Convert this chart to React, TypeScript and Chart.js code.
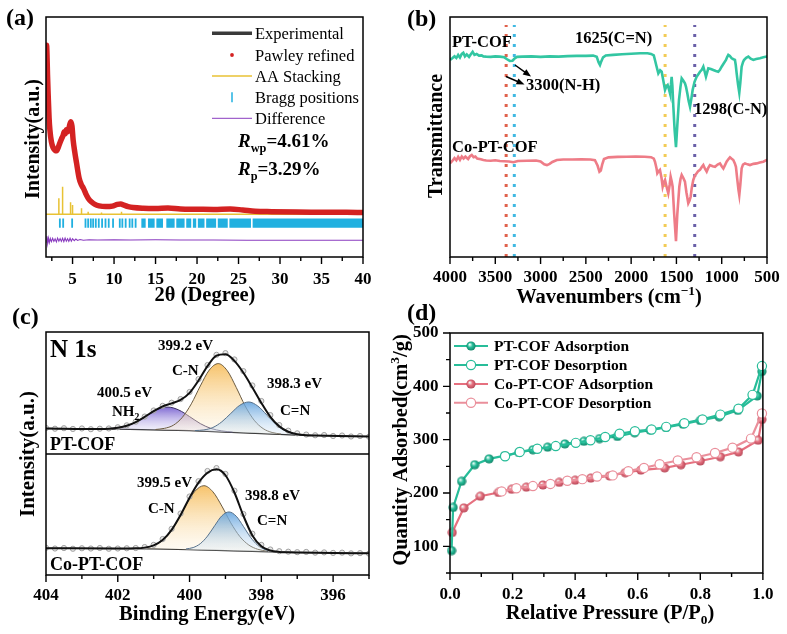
import React, { useEffect, useRef } from 'react';
import { Chart, registerables } from 'chart.js';
Chart.register(...registerables);

const SERIF = '"Liberation Serif", "Times New Roman", Times, serif';

// ---------------- Panel (a): PXRD ----------------
const A_PATTERN = [
  [1.82, 86], [1.87, 88.2], [1.93, 83], [1.98, 76], [2.07, 66.8], [2.17, 58], [2.27, 52.9], [2.45, 48],
  [2.67, 45.4], [2.9, 44.4], [3.08, 44.3], [3.27, 45.6], [3.47, 47.5], [3.67, 49.2], [3.87, 50.8], [4.0, 52.2],
  [4.12, 51.3], [4.25, 53.0], [4.4, 52.2], [4.55, 53.5], [4.7, 55.6], [4.8, 56.4], [4.93, 54.5], [5.07, 48.75],
  [5.3, 43], [5.48, 39.2], [5.79, 32.9], [6.05, 30.2], [6.3, 28.7], [6.6, 26.3], [6.9, 24.4], [7.3, 22.9],
  [7.7, 21.9], [8.2, 21.3], [9.0, 21.0], [9.8, 21.2], [10.4, 21.9], [10.8, 22.1], [11.2, 21.6], [11.7, 21.0],
  [12.3, 20.6], [13.5, 20.3], [15, 20.2], [16.5, 20.4], [18, 20.0], [20, 19.9], [22, 19.8], [24, 20.0],
  [25.5, 19.6], [27, 19.1], [29, 18.9], [32, 18.7], [35, 18.6], [38, 18.6], [40, 18.5],
];
const A_AA_BASE = 17.8;
const A_AA_STICKS = [[3.35, 24.5], [3.8, 29.3], [4.76, 22.8], [5.0, 21.7], [6.08, 20.3], [6.88, 18.9], [8.49, 18.5], [10.9, 18.9]];
const A_BRAGG_TICKS = [3.47, 3.87, 4.95, 6.56, 6.88, 7.2, 7.48, 7.8, 8.16, 8.56, 8.97, 9.36, 9.88, 10.69, 11.0, 11.4, 11.88, 12.2, 12.6];
const A_BRAGG_BLOCKS = [[13.29, 13.81], [14.09, 14.89], [15.1, 15.9], [16.3, 17.3], [17.5, 18.5], [18.7, 19.3], [19.5, 19.9], [20.1, 20.9], [21.1, 22.3], [22.5, 23.7], [23.9, 26.5], [26.7, 40]];
const A_BRAGG_LOW = 12.2;
const A_BRAGG_HIGH = 16.0;
const A_DIFF = [
  [1.85, 6.2], [1.92, 8.6], [2.0, 5.6], [2.1, 7.9], [2.2, 6.0], [2.32, 7.7], [2.45, 6.4], [2.6, 7.8], [2.75, 6.5],
  [2.9, 7.6], [3.05, 6.3], [3.2, 7.9], [3.35, 6.6], [3.5, 7.7], [3.65, 6.5], [3.8, 7.8], [3.95, 6.4], [4.1, 7.9],
  [4.25, 6.6], [4.4, 7.6], [4.55, 6.5], [4.7, 7.8], [4.85, 6.6], [5.0, 7.6], [5.2, 6.8], [5.4, 7.5], [5.6, 6.9],
  [5.9, 7.3], [6.3, 7.0], [7, 7.2], [8, 7.1], [10, 7.2], [12, 7.1], [15, 7.2], [18, 7.1], [22, 7.1], [26, 7.0],
  [30, 7.0], [35, 7.0], [40, 7.0],
];
const A_X_MAJOR = [5, 10, 15, 20, 25, 30, 35, 40];
const A_X_MINOR = [2.5, 7.5, 12.5, 17.5, 22.5, 27.5, 32.5, 37.5];
const A_LEGEND = ['Experimental', 'Pawley refined', 'AA Stacking', 'Bragg positions', 'Difference'];

// ---------------- Panel (b): FT-IR ----------------
const B_PT_COF = [
  [4000, 82.1], [3975, 82.8], [3950, 83.6], [3930, 82.9], [3910, 84.2], [3890, 83.1], [3870, 84.6], [3853, 85.1],
  [3835, 83.6], [3815, 84.4], [3790, 83.4], [3770, 84.5], [3750, 85.5], [3730, 84.2], [3706, 84.6], [3680, 83.9],
  [3650, 84.0], [3632, 83.6], [3600, 83.5], [3550, 83.4], [3500, 83.6], [3450, 83.5], [3400, 83.2], [3370, 82.4],
  [3340, 81.7], [3310, 81.8], [3290, 82.6], [3260, 83.4], [3200, 83.5], [3100, 83.6], [3000, 83.4], [2950, 83.5],
  [2900, 83.6], [2800, 83.5], [2700, 83.7], [2600, 83.8], [2500, 83.8], [2420, 83.9], [2380, 83.4], [2360, 81.2],
  [2344, 80.0], [2330, 81.5], [2310, 83.2], [2280, 84.0], [2200, 84.2], [2100, 84.5], [2000, 84.7], [1900, 84.9],
  [1820, 84.9], [1780, 84.6], [1750, 84.0], [1737, 82.1], [1720, 79.5], [1700, 76.5], [1680, 77.8], [1663, 77.2],
  [1645, 73.5], [1626, 69.6], [1610, 71.2], [1597, 71.7], [1580, 69.5], [1571, 68.2], [1560, 72.0], [1553, 75.1],
  [1545, 71.5], [1534, 62.6], [1520, 53.0], [1505, 45.8], [1490, 55.0], [1472, 65.4], [1455, 71.0], [1442, 74.4],
  [1425, 73.5], [1406, 72.4], [1395, 71.0], [1380, 68.2], [1365, 65.0], [1350, 62.6], [1335, 66.0], [1321, 69.6],
  [1300, 73.0], [1277, 75.1], [1260, 76.0], [1240, 77.2], [1220, 78.0], [1203, 79.3], [1190, 77.5], [1174, 75.1],
  [1160, 77.0], [1148, 78.6], [1120, 78.3], [1093, 77.9], [1065, 77.5], [1038, 77.2], [1020, 78.0], [1001, 79.3],
  [975, 80.8], [953, 82.1], [940, 83.3], [927, 84.2], [910, 83.8], [890, 82.8], [870, 82.4], [854, 82.1],
  [845, 80.0], [835, 76.5], [820, 72.0], [806, 68.5], [795, 72.5], [780, 79.3], [765, 81.2], [754, 82.1],
  [730, 83.0], [706, 83.5], [680, 82.6], [651, 82.1], [620, 82.5], [578, 82.8], [540, 83.2], [504, 83.5], [500, 83.5],
];
const B_CO_PT_COF = [
  [4000, 39.0], [3975, 40.0], [3950, 41.2], [3930, 40.3], [3910, 41.7], [3890, 40.5], [3870, 41.9], [3850, 41.0],
  [3830, 41.8], [3800, 40.8], [3780, 42.0], [3760, 42.5], [3740, 41.6], [3720, 41.9], [3700, 41.0], [3660, 40.7],
  [3632, 40.4], [3600, 40.2], [3550, 40.1], [3500, 40.3], [3450, 40.0], [3400, 39.9], [3350, 39.8], [3300, 39.5],
  [3250, 40.0], [3150, 40.1], [3050, 40.2], [3000, 39.8], [2960, 38.6], [2930, 38.3], [2900, 38.8], [2870, 39.6],
  [2820, 40.4], [2750, 40.6], [2650, 40.6], [2550, 40.7], [2450, 40.6], [2400, 40.3], [2370, 38.0], [2350, 35.5],
  [2335, 36.0], [2320, 38.5], [2300, 40.8], [2250, 41.5], [2150, 41.7], [2050, 41.8], [1950, 41.9], [1850, 41.8],
  [1780, 41.6], [1750, 41.0], [1737, 39.7], [1720, 37.0], [1711, 34.9], [1695, 35.8], [1682, 36.3], [1665, 33.0],
  [1652, 29.3], [1640, 31.0], [1626, 32.1], [1610, 29.5], [1590, 26.5], [1575, 30.0], [1564, 33.5], [1552, 31.5],
  [1542, 29.3], [1525, 18.0], [1505, 6.6], [1490, 18.0], [1468, 29.3], [1455, 32.5], [1442, 34.2], [1425, 33.0],
  [1406, 31.4], [1390, 27.0], [1369, 22.4], [1355, 23.5], [1343, 25.1], [1330, 29.0], [1314, 32.1], [1295, 34.0],
  [1277, 34.9], [1260, 35.8], [1240, 36.3], [1220, 37.5], [1203, 38.3], [1185, 36.8], [1166, 35.6], [1150, 37.0],
  [1130, 38.3], [1100, 37.8], [1074, 37.6], [1045, 38.5], [1019, 39.0], [1000, 37.8], [982, 36.9], [965, 38.2],
  [946, 39.7], [925, 40.8], [909, 41.5], [890, 40.9], [872, 40.4], [855, 39.0], [843, 37.6], [830, 33.0],
  [815, 28.0], [806, 25.8], [795, 30.0], [780, 36.9], [765, 38.5], [743, 39.0], [715, 38.6], [688, 38.3],
  [650, 38.8], [614, 39.0], [580, 39.4], [541, 39.7], [504, 40.4], [500, 40.4],
];
const B_MARK_LINES = [
  { wn: 3380, color: '#e0614c' },
  { wn: 3290, color: '#40b9e2' },
  { wn: 1625, color: '#f2cb55' },
  { wn: 1298, color: '#6a60a8' },
];
const B_MARK_TOP = 96.7;
const B_X_MAJOR = [4000, 3500, 3000, 2500, 2000, 1500, 1000, 500];
const B_X_MINOR = [3750, 3250, 2750, 2250, 1750, 1250, 750];

// ---------------- Panel (c): XPS N 1s ----------------
const C_TOP_BASE = [[404, 60.3], [402, 60.0], [401, 59.75], [400, 59.4], [399, 58.8], [398, 58.2], [397, 57.6], [396, 57.3], [395, 57.0]];
const C_TOP_NH2 = [[402.4, 60.1], [402.1, 60.4], [401.8, 61.2], [401.5, 62.9], [401.2, 65.5], [400.9, 68.1], [400.6, 69.1], [400.3, 67.9], [400.0, 65.2], [399.7, 62.3], [399.4, 60.3], [399.1, 59.3], [398.8, 58.8]];
const C_TOP_CN = [[400.95, 59.88], [400.7, 60.35], [400.45, 61.65], [400.2, 64.9], [399.95, 70.45], [399.7, 77.8], [399.45, 84.35], [399.2, 87.0], [398.95, 84.1], [398.7, 77.2], [398.45, 69.55], [398.2, 63.7], [397.95, 60.25], [397.7, 58.65], [397.45, 58.03]];
const C_TOP_CEN = [[399.85, 59.45], [399.6, 59.7], [399.35, 60.7], [399.1, 63.05], [398.85, 66.5], [398.6, 69.85], [398.35, 71.2], [398.1, 69.55], [397.85, 65.9], [397.6, 62.15], [397.35, 59.5], [397.1, 58.2], [396.85, 57.7]];
const C_TOP_ENV = [[404, 60.3], [402.5, 60.05], [402.25, 60.2], [402.0, 60.6], [401.75, 61.4], [401.5, 62.9], [401.25, 65.05], [401.0, 67.45], [400.75, 69.4], [400.5, 70.65], [400.25, 72.05], [400.0, 74.95], [399.75, 80.05], [399.5, 85.98], [399.25, 90.25], [399.0, 90.87], [398.75, 88.13], [398.5, 83.24], [398.25, 77.17], [398.0, 70.8], [397.75, 65.1], [397.5, 61.16], [397.25, 58.94], [397.0, 57.93], [396.75, 57.5], [396.5, 57.4], [395, 57.0]];
const C_TOP_RAW = [[404, 60.5], [403.75, 60.2], [403.5, 60.4], [403.25, 60.1], [403.0, 60.3], [402.75, 60.0], [402.5, 60.2], [402.25, 60.3], [402.0, 60.8], [401.75, 61.6], [401.5, 63.1], [401.25, 65.2], [401.0, 67.7], [400.75, 69.6], [400.5, 70.9], [400.25, 72.4], [400.0, 75.3], [399.75, 80.6], [399.5, 86.4], [399.25, 90.6], [399.0, 91.3], [398.75, 88.7], [398.5, 83.9], [398.25, 78.0], [398.0, 71.6], [397.75, 65.8], [397.5, 61.7], [397.25, 59.4], [397.0, 58.3], [396.75, 57.8], [396.5, 57.5], [396.25, 57.6], [396.0, 57.2], [395.75, 57.4], [395.5, 57.0], [395.25, 57.2], [395.0, 56.9]];
const C_BOT_BASE = [[404, 11.0], [401, 10.75], [400, 10.4], [399, 10.0], [398, 9.6], [397, 9.3], [395, 8.9]];
const C_BOT_CN = [[401.35, 11.13], [401.1, 11.69], [400.85, 13.25], [400.6, 16.6], [400.35, 22.0], [400.1, 28.75], [399.85, 34.45], [399.6, 36.75], [399.35, 34.25], [399.1, 28.35], [398.85, 21.45], [398.6, 15.85], [398.35, 12.35], [398.1, 10.59], [397.85, 9.83]];
const C_BOT_CEN = [[400.1, 10.72], [399.9, 11.29], [399.7, 12.9], [399.5, 16.0], [399.3, 20.3], [399.1, 24.35], [398.9, 25.95], [398.7, 24.2], [398.5, 20.0], [398.3, 15.5], [398.1, 12.25], [397.9, 10.49], [397.7, 9.77]];
const C_BOT_ENV = [[404, 11.0], [402, 10.9], [401.75, 10.93], [401.5, 10.97], [401.25, 11.26], [401.0, 12.19], [400.75, 14.36], [400.5, 18.57], [400.25, 24.7], [400.0, 31.8], [399.75, 38.0], [399.5, 42.1], [399.25, 43.5], [399.0, 41.05], [398.75, 33.96], [398.5, 24.38], [398.25, 16.3], [398.0, 11.8], [397.75, 10.08], [397.5, 9.5], [397.25, 9.35], [396, 9.1], [395, 8.9]];
const C_BOT_RAW = [[404, 11.2], [403.75, 10.9], [403.5, 11.1], [403.25, 10.8], [403.0, 11.0], [402.75, 10.9], [402.5, 11.1], [402.25, 10.8], [402.0, 10.9], [401.75, 11.0], [401.5, 11.1], [401.25, 11.5], [401.0, 12.4], [400.75, 14.8], [400.5, 19.0], [400.25, 25.3], [400.0, 32.3], [399.75, 38.6], [399.5, 42.8], [399.25, 44.0], [399.0, 41.6], [398.75, 34.7], [398.5, 25.1], [398.25, 17.0], [398.0, 12.4], [397.75, 10.5], [397.5, 9.8], [397.25, 9.6], [397.0, 9.4], [396.75, 9.5], [396.5, 9.2], [396.25, 9.3], [396.0, 9.1], [395.75, 9.2], [395.5, 8.9], [395.25, 9.0], [395.0, 8.8]];
const C_DIVIDER = 49.8;
const C_X_MAJOR = [404, 402, 400, 398, 396];
const C_X_MINOR = [403, 401, 399, 397, 395];

// ---------------- Panel (d): N2 isotherms ----------------
const D_PT_ADS = [[0.005, 92], [0.01, 173], [0.037, 222], [0.079, 253], [0.125, 264], [0.175, 270], [0.22, 276], [0.265, 281], [0.312, 286], [0.367, 292], [0.428, 297], [0.478, 302], [0.535, 306], [0.59, 313], [0.64, 318], [0.69, 323], [0.745, 329], [0.8, 336], [0.86, 343], [0.92, 355], [0.982, 382], [0.997, 428]];
const D_PT_DES = [[0.997, 438], [0.967, 384], [0.922, 358], [0.864, 347], [0.807, 338], [0.749, 331], [0.691, 324], [0.644, 319], [0.591, 316], [0.542, 311], [0.496, 305], [0.449, 299], [0.402, 294], [0.338, 288], [0.279, 283], [0.223, 277], [0.176, 269]];
const D_CO_ADS = [[0.007, 126], [0.044, 172], [0.097, 194], [0.155, 201], [0.197, 207], [0.244, 211], [0.297, 215], [0.349, 220], [0.4, 224], [0.45, 228], [0.51, 232], [0.56, 238], [0.61, 243], [0.686, 247], [0.738, 253], [0.8, 260], [0.864, 268], [0.922, 277], [0.985, 299], [0.997, 338]];
const D_CO_DES = [[0.997, 349], [0.962, 302], [0.903, 285], [0.847, 275], [0.788, 267], [0.728, 261], [0.67, 254], [0.62, 247], [0.57, 241], [0.52, 233], [0.47, 231], [0.423, 226], [0.375, 223], [0.321, 217], [0.265, 213], [0.212, 209], [0.165, 203]];
const D_LEGEND = ['PT-COF Adsorption', 'PT-COF Desorption', 'Co-PT-COF Adsorption', 'Co-PT-COF Desorption'];
const D_X_MAJOR = [0, 0.2, 0.4, 0.6, 0.8, 1.0];
const D_X_MINOR = [0.1, 0.3, 0.5, 0.7, 0.9];
const D_Y_MAJOR = [100, 200, 300, 400, 500];
const D_Y_MINOR = [50, 150, 250, 350, 450];

// ---------------- colours ----------------
const RED = '#d42222';
const DARK = '#3a3a3a';
const YELLOW = '#e8c234';
const CYAN = '#20b0e0';
const PURPLE = '#8a3cc0';
const TEAL = '#27bd99';
const PINK = '#e6707f';
const PINK_LIGHT = '#ea8f9b';

// ---------------- helpers ----------------
type Seg = { t: string; s?: 'sub' | 'sup'; i?: boolean };
const pts = (a: number[][]) => a.map(([x, y]) => ({ x, y }));
const fnt = (size: number, bold = true, italic = false) => `${italic ? 'italic ' : ''}${bold ? 'bold ' : ''}${size}px ${SERIF}`;

function rich(ctx: CanvasRenderingContext2D, segs: Seg[], x: number, y: number, size: number, align = 'left', bold = true, color = '#000') {
  const parts = segs.map((sg) => {
    const sz = sg.s ? size * 0.65 : size;
    const f = fnt(sz, bold, !!sg.i);
    ctx.font = f;
    return { ...sg, f, w: ctx.measureText(sg.t).width, dy: sg.s === 'sub' ? size * 0.25 : sg.s === 'sup' ? -size * 0.4 : 0 };
  });
  const total = parts.reduce((a, p) => a + p.w, 0);
  let cx = align === 'left' ? x : align === 'center' ? x - total / 2 : x - total;
  ctx.save();
  ctx.fillStyle = color;
  ctx.textAlign = 'left';
  ctx.textBaseline = 'alphabetic';
  for (const p of parts) {
    ctx.font = p.f;
    ctx.fillText(p.t, cx, y + p.dy);
    cx += p.w;
  }
  ctx.restore();
}
const txt = (ctx: CanvasRenderingContext2D, t: string, x: number, y: number, size: number, align = 'left', bold = true) => rich(ctx, [{ t }], x, y, size, align, bold);

function vrich(ctx: CanvasRenderingContext2D, segs: Seg[], cx: number, cy: number, size: number) {
  ctx.save();
  ctx.translate(cx, cy);
  ctx.rotate(-Math.PI / 2);
  rich(ctx, segs, 0, size * 0.35, size, 'center');
  ctx.restore();
}

function frame(chart: any) {
  const { ctx, chartArea: a } = chart;
  ctx.save();
  ctx.strokeStyle = '#000';
  ctx.lineWidth = 1.5;
  ctx.strokeRect(a.left, a.top, a.right - a.left, a.bottom - a.top);
  ctx.restore();
}

function xTicks(chart: any, major: number[], minor: number[]) {
  const { ctx, chartArea: a } = chart;
  const s = chart.scales.x;
  ctx.save();
  ctx.strokeStyle = '#000';
  ctx.lineWidth = 1.4;
  ctx.beginPath();
  for (const v of major) { const p = s.getPixelForValue(v); ctx.moveTo(p, a.bottom); ctx.lineTo(p, a.bottom + 7); }
  for (const v of minor) { const p = s.getPixelForValue(v); ctx.moveTo(p, a.bottom); ctx.lineTo(p, a.bottom + 4); }
  ctx.stroke();
  ctx.restore();
}

function yTicks(chart: any, major: number[], minor: number[]) {
  const { ctx, chartArea: a } = chart;
  const s = chart.scales.y;
  ctx.save();
  ctx.strokeStyle = '#000';
  ctx.lineWidth = 1.4;
  ctx.beginPath();
  for (const v of major) { const p = s.getPixelForValue(v); ctx.moveTo(a.left, p); ctx.lineTo(a.left - 7, p); }
  for (const v of minor) { const p = s.getPixelForValue(v); ctx.moveTo(a.left, p); ctx.lineTo(a.left - 4, p); }
  ctx.stroke();
  ctx.restore();
}

const tickFont = { family: SERIF, size: 17, weight: 'bold' as const, lineHeight: 1 };
const isIn = (list: number[], v: number) => list.some((m) => Math.abs(m - v) < 1e-6);

function xScale(min: number, max: number, major: number[], minor: number[], pad: number, fmt: (v: number) => string, reverse = false) {
  return {
    type: 'linear', min, max, reverse,
    afterBuildTicks: (s: any) => { s.ticks = [...major, ...minor].sort((p, q) => p - q).map((value) => ({ value })); },
    afterFit: (s: any) => { s.height = 40; },
    ticks: { autoSkip: false, maxRotation: 0, minRotation: 0, padding: pad, color: '#000', font: tickFont, callback: (v: any) => (isIn(major, Number(v)) ? fmt(Number(v)) : '') },
    grid: { drawOnChartArea: false, drawTicks: false },
    border: { display: false },
  };
}

function makeChart(canvas: HTMLCanvasElement, datasets: any[], scales: any, padding: any, draw: (ctx: CanvasRenderingContext2D, chart: any) => void) {
  return new Chart(canvas, {
    type: 'line',
    data: { datasets },
    options: {
      animation: false,
      responsive: false,
      events: [],
      layout: { padding },
      plugins: { legend: { display: false }, tooltip: { enabled: false } },
      elements: { point: { radius: 0 }, line: { tension: 0 } },
      scales,
    } as any,
    plugins: [{ id: 'overlay', afterDraw: (chart: any) => draw(chart.ctx, chart) }],
  });
}

function sphere(base: string, dark: string) {
  const c = document.createElement('canvas');
  c.width = 10; c.height = 10;
  const g = c.getContext('2d')!;
  const gr = g.createRadialGradient(3.6, 3.4, 0.3, 5, 5, 5);
  gr.addColorStop(0, '#f2fffb');
  gr.addColorStop(0.45, base);
  gr.addColorStop(1, dark);
  g.fillStyle = gr;
  g.beginPath(); g.arc(5, 5, 4.6, 0, Math.PI * 2); g.fill();
  return c;
}

function gradFill(top: string, bottom: string, data: number[][]) {
  const peak = Math.max(...data.map((p) => p[1]));
  const base = Math.min(...data.map((p) => p[1]));
  return (c: any) => {
    const chart = c.chart;
    const y = chart.scales && chart.scales.y;
    if (!chart.chartArea || !y) return top;
    const g = chart.ctx.createLinearGradient(0, y.getPixelForValue(peak), 0, y.getPixelForValue(base));
    g.addColorStop(0, top);
    g.addColorStop(1, bottom);
    return g;
  };
}

function arrow(ctx: CanvasRenderingContext2D, x1: number, y1: number, x2: number, y2: number) {
  const ang = Math.atan2(y2 - y1, x2 - x1);
  ctx.save();
  ctx.strokeStyle = '#000'; ctx.fillStyle = '#000'; ctx.lineWidth = 1.5;
  ctx.beginPath(); ctx.moveTo(x1, y1); ctx.lineTo(x2 - 5 * Math.cos(ang), y2 - 5 * Math.sin(ang)); ctx.stroke();
  ctx.beginPath();
  ctx.moveTo(x2, y2);
  ctx.lineTo(x2 - 8 * Math.cos(ang) + 3.2 * Math.sin(ang), y2 - 8 * Math.sin(ang) - 3.2 * Math.cos(ang));
  ctx.lineTo(x2 - 8 * Math.cos(ang) - 3.2 * Math.sin(ang), y2 - 8 * Math.sin(ang) + 3.2 * Math.cos(ang));
  ctx.closePath(); ctx.fill();
  ctx.restore();
}

// ---------------- panels ----------------
function panelA(canvas: HTMLCanvasElement) {
  const aa: any[] = [{ x: 1.8, y: A_AA_BASE }];
  for (const [x, h] of A_AA_STICKS) aa.push({ x, y: A_AA_BASE }, { x, y: h }, { x, y: A_AA_BASE });
  aa.push({ x: 40, y: A_AA_BASE });
  const ticks: any[] = [];
  for (const x of A_BRAGG_TICKS) ticks.push({ x, y: A_BRAGG_LOW }, { x, y: A_BRAGG_HIGH }, { x, y: null });
  const mid = (A_BRAGG_LOW + A_BRAGG_HIGH) / 2;
  const blocks: any[] = [];
  for (const [a, b] of A_BRAGG_BLOCKS) blocks.push({ x: a, y: mid }, { x: b, y: mid }, { x: b, y: null });
  const datasets = [
    { data: pts(A_PATTERN), borderColor: RED, borderWidth: 5.5, cubicInterpolationMode: 'monotone' },
    { data: pts(A_PATTERN), borderColor: DARK, borderWidth: 2, cubicInterpolationMode: 'monotone' },
    { data: aa, borderColor: YELLOW, borderWidth: 1.5 },
    { data: ticks, borderColor: CYAN, borderWidth: 1.8 },
    { data: blocks, borderColor: CYAN, borderWidth: (A_BRAGG_HIGH - A_BRAGG_LOW) * 2.4, borderCapStyle: 'butt' },
    { data: pts(A_DIFF), borderColor: PURPLE, borderWidth: 1.1 },
  ];
  const scales = {
    x: xScale(1.8, 40, A_X_MAJOR, A_X_MINOR, 14, (v) => String(v)),
    y: { type: 'linear', display: false, min: 0, max: 100 },
  };
  return makeChart(canvas, datasets, scales, { left: 46, right: 424, top: 17, bottom: 337 }, (ctx, chart) => {
    frame(chart);
    xTicks(chart, A_X_MAJOR, A_X_MINOR);
    txt(ctx, '(a)', 6, 25, 24);
    rich(ctx, [{ t: '2θ (Degree)' }], 205, 301, 20.5, 'center');
    vrich(ctx, [{ t: 'Intensity(a.u.)' }], 32, 139, 20);
    const rows = [33.3, 55, 76, 97.3, 118.3];
    ctx.save();
    ctx.lineCap = 'butt';
    ctx.strokeStyle = DARK; ctx.lineWidth = 3.5;
    ctx.beginPath(); ctx.moveTo(212, rows[0]); ctx.lineTo(252, rows[0]); ctx.stroke();
    ctx.fillStyle = RED; ctx.beginPath(); ctx.arc(232, rows[1], 1.9, 0, Math.PI * 2); ctx.fill();
    ctx.strokeStyle = YELLOW; ctx.lineWidth = 1.5;
    ctx.beginPath(); ctx.moveTo(212, rows[2]); ctx.lineTo(252, rows[2]); ctx.stroke();
    ctx.strokeStyle = CYAN; ctx.lineWidth = 1.5;
    ctx.beginPath(); ctx.moveTo(232, rows[3] - 5); ctx.lineTo(232, rows[3] + 5); ctx.stroke();
    ctx.strokeStyle = PURPLE; ctx.lineWidth = 1;
    ctx.beginPath(); ctx.moveTo(212, rows[4]); ctx.lineTo(252, rows[4]); ctx.stroke();
    ctx.restore();
    A_LEGEND.forEach((t, i) => txt(ctx, t, 255, rows[i] + 5.5, 16.5, 'left', false));
    rich(ctx, [{ t: 'R', i: true }, { t: 'wp', s: 'sub' }, { t: '=4.61%' }], 238, 147, 19);
    rich(ctx, [{ t: 'R', i: true }, { t: 'p', s: 'sub' }, { t: '=3.29%' }], 238, 175, 19);
  });
}

function panelB(canvas: HTMLCanvasElement) {
  const datasets: any[] = [
    { data: pts(B_PT_COF), borderColor: '#33c6a2', borderWidth: 2.6 },
    { data: pts(B_CO_PT_COF), borderColor: '#ee7c87', borderWidth: 2.6 },
    ...B_MARK_LINES.map((m) => ({ data: [{ x: m.wn, y: 0 }, { x: m.wn, y: B_MARK_TOP }], borderColor: m.color, borderWidth: 3, borderDash: [3, 7], borderCapStyle: 'butt' })),
  ];
  const scales = {
    x: xScale(500, 4000, B_X_MAJOR, B_X_MINOR, 12, (v) => String(v), true),
    y: { type: 'linear', display: false, min: 0, max: 100 },
  };
  return makeChart(canvas, datasets, scales, { left: 450, right: 20, top: 17, bottom: 337 }, (ctx, chart) => {
    frame(chart);
    xTicks(chart, B_X_MAJOR, B_X_MINOR);
    txt(ctx, '(b)', 407, 26, 24);
    rich(ctx, [{ t: 'Wavenumbers (cm' }, { t: '−1', s: 'sup' }, { t: ')' }], 609, 303, 20.5, 'center');
    vrich(ctx, [{ t: 'Transmittance' }], 435, 136, 20);
    txt(ctx, 'PT-COF', 452, 46.5, 16.5);
    txt(ctx, '1625(C=N)', 575, 43, 16.5);
    txt(ctx, '3300(N-H)', 526, 89.5, 16.5);
    txt(ctx, '1298(C-N)', 694, 114, 16.5);
    txt(ctx, 'Co-PT-COF', 452, 152, 16.5);
    arrow(ctx, 515, 65, 531, 76.5);
    arrow(ctx, 506, 76.5, 524.5, 84.5);
  });
}

function panelC(canvas: HTMLCanvasElement) {
  const comp = (data: number[][], top: string, bottom: string, base: number, border: string) => ({
    data: pts(data), borderColor: border, borderWidth: 1, cubicInterpolationMode: 'monotone',
    backgroundColor: gradFill(top, bottom, data), fill: { target: base },
  });
  const raw = (data: number[][]) => ({ data: pts(data), showLine: false, pointRadius: 2.6, pointBorderWidth: 1, pointBorderColor: '#a0a0a0', pointBackgroundColor: 'rgba(220,220,220,0.6)' });
  const env = (data: number[][]) => ({ data: pts(data), borderColor: '#111', borderWidth: 2, cubicInterpolationMode: 'monotone' });
  const datasets: any[] = [
    env(C_TOP_ENV),
    raw(C_TOP_RAW),
    comp(C_TOP_CEN, 'rgba(95,160,220,0.88)', 'rgba(215,232,248,0.25)', 5, '#56708a'),
    comp(C_TOP_CN, 'rgba(246,188,90,0.9)', 'rgba(252,238,210,0.25)', 5, '#6a5a40'),
    comp(C_TOP_NH2, 'rgba(112,88,205,0.9)', 'rgba(220,214,245,0.25)', 5, '#3d3360'),
    { data: pts(C_TOP_BASE), borderColor: '#222', borderWidth: 1.2 },
    env(C_BOT_ENV),
    raw(C_BOT_RAW),
    comp(C_BOT_CEN, 'rgba(95,160,220,0.88)', 'rgba(215,232,248,0.25)', 10, '#56708a'),
    comp(C_BOT_CN, 'rgba(246,188,90,0.9)', 'rgba(252,238,210,0.25)', 10, '#6a5a40'),
    { data: pts(C_BOT_BASE), borderColor: '#222', borderWidth: 1.2 },
    { data: [{ x: 404, y: C_DIVIDER }, { x: 395, y: C_DIVIDER }], borderColor: '#000', borderWidth: 1.5 },
  ];
  const scales = {
    x: xScale(395, 404, C_X_MAJOR, C_X_MINOR, 12, (v) => String(v), true),
    y: { type: 'linear', display: false, min: 0, max: 100 },
  };
  return makeChart(canvas, datasets, scales, { left: 46, right: 418, top: 332, bottom: 19 }, (ctx, chart) => {
    frame(chart);
    xTicks(chart, C_X_MAJOR, C_X_MINOR);
    txt(ctx, '(c)', 12, 324, 24);
    rich(ctx, [{ t: 'Binding Energy(eV)' }], 207, 620, 20.5, 'center');
    vrich(ctx, [{ t: 'Intensity(a.u.)' }], 27, 454, 21);
    txt(ctx, 'N 1s', 50, 357, 25);
    txt(ctx, '399.2 eV', 158, 350, 15);
    txt(ctx, 'C-N', 172, 375, 15);
    txt(ctx, '400.5 eV', 97, 396.5, 15);
    rich(ctx, [{ t: 'NH' }, { t: '2', s: 'sub' }], 112, 416, 15);
    txt(ctx, '398.3 eV', 267, 388, 15);
    txt(ctx, 'C=N', 280, 415, 15);
    txt(ctx, 'PT-COF', 50, 450, 18);
    txt(ctx, '399.5 eV', 137, 486.5, 15);
    txt(ctx, 'C-N', 148, 513, 15);
    txt(ctx, '398.8 eV', 245, 500, 15);
    txt(ctx, 'C=N', 257, 525, 15);
    txt(ctx, 'Co-PT-COF', 50, 570, 18);
  });
}

function panelD(canvas: HTMLCanvasElement) {
  const tealBall = sphere(TEAL, '#0f7d62');
  const pinkBall = sphere(PINK, '#b04454');
  const line = (data: number[][], color: string, marker: any, open: boolean) => ({
    data: pts(data), borderColor: color, borderWidth: 2.2, clip: false,
    pointStyle: open ? 'circle' : marker, pointRadius: open ? 4.6 : 5,
    pointBackgroundColor: '#fff', pointBorderColor: color, pointBorderWidth: open ? 1.2 : 0,
  });
  const datasets = [
    line(D_PT_DES, TEAL, null, true),
    line(D_PT_ADS, TEAL, tealBall, false),
    line(D_CO_DES, PINK_LIGHT, null, true),
    line(D_CO_ADS, PINK, pinkBall, false),
  ];
  const scales = {
    x: xScale(0, 1, D_X_MAJOR, D_X_MINOR, 13.5, (v) => v.toFixed(1)),
    y: {
      type: 'linear', min: 50, max: 500,
      afterBuildTicks: (s: any) => { s.ticks = [...D_Y_MINOR, ...D_Y_MAJOR].sort((p, q) => p - q).map((value) => ({ value })); },
      afterFit: (s: any) => { s.width = 60; },
      ticks: { autoSkip: false, padding: 11.5, color: '#000', font: tickFont, callback: (v: any) => (isIn(D_Y_MAJOR, Number(v)) ? String(v) : '') },
      grid: { drawOnChartArea: false, drawTicks: false },
      border: { display: false },
    },
  };
  return makeChart(canvas, datasets, scales, { left: 390, right: 19, top: 333, bottom: 21 }, (ctx, chart) => {
    frame(chart);
    xTicks(chart, D_X_MAJOR, D_X_MINOR);
    yTicks(chart, D_Y_MAJOR, D_Y_MINOR);
    txt(ctx, '(d)', 407, 319.5, 24);
    rich(ctx, [{ t: 'Relative Pressure (P/P' }, { t: '0', s: 'sub' }, { t: ')' }], 610, 618.5, 20.5, 'center');
    vrich(ctx, [{ t: 'Quantity Adsorbed(cm' }, { t: '3', s: 'sup' }, { t: '/g)' }], 400, 450, 20.5);
    const rows = [346, 365, 384, 402.7];
    const cols = [TEAL, TEAL, PINK, PINK_LIGHT];
    const balls = [tealBall, null, pinkBall, null];
    rows.forEach((y, i) => {
      ctx.save();
      ctx.strokeStyle = cols[i]; ctx.lineWidth = 2;
      ctx.beginPath(); ctx.moveTo(454, y); ctx.lineTo(488, y); ctx.stroke();
      const b = balls[i];
      if (b) ctx.drawImage(b, 471 - 5, y - 5, 10, 10);
      else { ctx.fillStyle = '#fff'; ctx.lineWidth = 1.2; ctx.beginPath(); ctx.arc(471, y, 4.6, 0, Math.PI * 2); ctx.fill(); ctx.stroke(); }
      ctx.restore();
      txt(ctx, D_LEGEND[i], 494, y + 5.2, 15.5);
    });
  });
}

export default function App() {
  const ra = useRef<HTMLCanvasElement>(null);
  const rb = useRef<HTMLCanvasElement>(null);
  const rc = useRef<HTMLCanvasElement>(null);
  const rd = useRef<HTMLCanvasElement>(null);
  useEffect(() => {
    const charts = [panelA(ra.current!), panelB(rb.current!), panelC(rc.current!), panelD(rd.current!)];
    return () => charts.forEach((c) => c.destroy());
  }, []);
  const cs: React.CSSProperties = { position: 'absolute', left: 0, top: 0, width: 787, height: 634 };
  return (
    <div style={{ position: 'absolute', left: 0, top: 0, width: 787, height: 634, background: '#fff', overflow: 'hidden' }}>
      {[ra, rb, rc, rd].map((r, i) => (
        <canvas key={i} ref={r} width={787} height={634} style={cs} />
      ))}
    </div>
  );
}
